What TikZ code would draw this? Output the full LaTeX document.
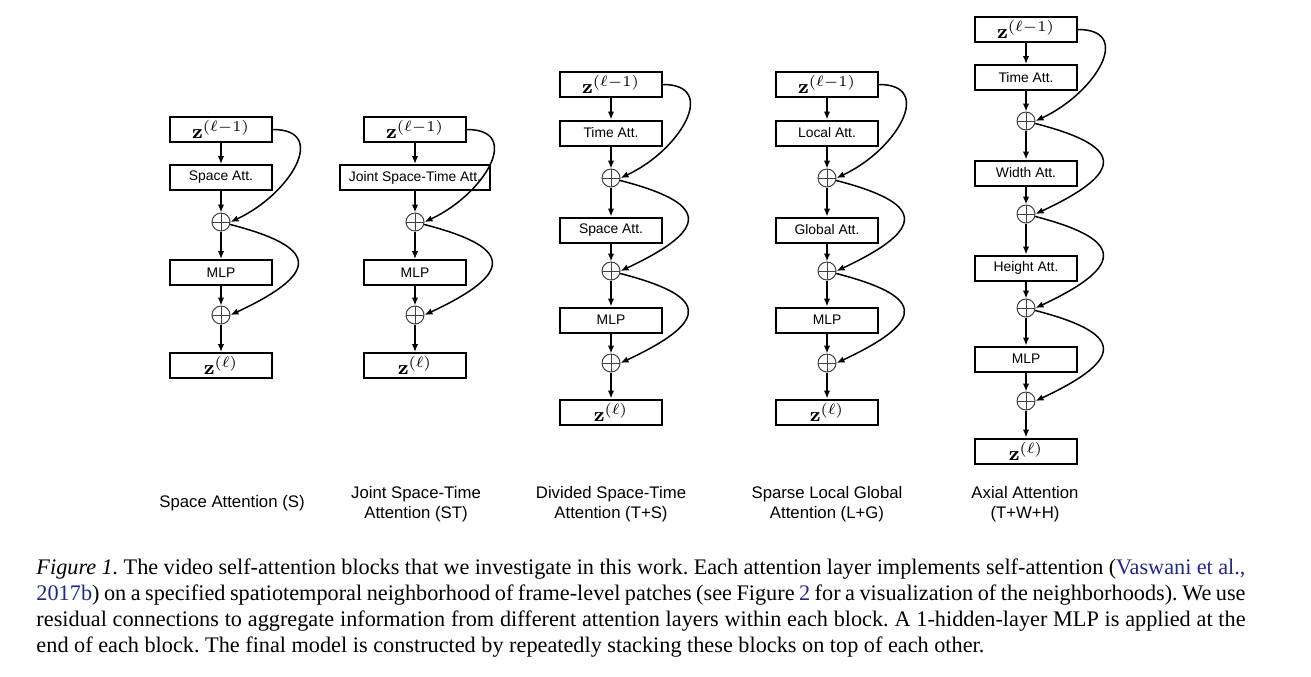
\documentclass[tikz,border=0pt]{standalone}
\usepackage[no-math]{fontspec}
\newfontfamily\arialf{Liberation Sans}
\newfontfamily\capf{Liberation Serif}
\usetikzlibrary{arrows.meta}
\definecolor{linkblue}{RGB}{30,40,140}
\begin{document}
\begin{tikzpicture}[x=0.4pt,y=-0.4pt,
  blk/.style={draw, line width=0.8pt, minimum width=40.8pt, minimum height=10pt, inner sep=0pt, font=\arialf\fontsize{5.55}{6.6}\selectfont},
  wblk/.style={blk, minimum width=60pt},
  zb/.style={blk, font=\fontsize{8}{9}\selectfont},
  pl/.style={circle, draw=black!75, line width=0.4pt, minimum size=7.2pt, inner sep=0pt,
    path picture={\draw[line width=0.4pt, black!75] (path picture bounding box.north) -- (path picture bounding box.south) (path picture bounding box.west) -- (path picture bounding box.east);}},
  fl/.style={-{Latex[length=3.2pt,width=2.6pt]}, line width=0.6pt},
  lbl/.style={align=center, inner sep=0pt, font=\arialf\fontsize{6.7}{8}\selectfont}]
\useasboundingbox (0,0) rectangle (1311,676);

% ---- column 1: Space Attention
\node[zb] (a0) at (221,129.5) {$\mathbf{z}^{(\ell-1)}$};
\node[blk] (a1) at (221,177.5) {Space Att.};
\node[pl] (ap1) at (221,222) {};
\node[blk] (a2) at (221,272.5) {MLP};
\node[pl] (ap2) at (221,315) {};
\node[zb] (a3) at (221,365.5) {$\mathbf{z}^{(\ell)}$};
\draw[fl] (a0) -- (a1); \draw[fl] (a1) -- (ap1); \draw[fl] (ap1) -- (a2);
\draw[fl] (a2) -- (ap2); \draw[fl] (ap2) -- (a3);
\draw[fl] (a0.east) .. controls +(56,0) and +(60,-28) .. (ap1.east);
\draw[fl] (ap1.-15) .. controls +(85,22) and +(94,-44) .. (ap2.east);
\node[lbl] (la) at (232,503) {Space Attention (S)};

% ---- column 2: Joint Space-Time
\node[zb] (b0) at (415,129.5) {$\mathbf{z}^{(\ell-1)}$};
\node[wblk] (b1) at (415,177.5) {Joint Space-Time Att.};
\node[pl] (bp1) at (415,222) {};
\node[blk] (b2) at (415,272.5) {MLP};
\node[pl] (bp2) at (415,315) {};
\node[zb] (b3) at (415,365.5) {$\mathbf{z}^{(\ell)}$};
\draw[fl] (b0) -- (b1); \draw[fl] (b1) -- (bp1); \draw[fl] (bp1) -- (b2);
\draw[fl] (b2) -- (bp2); \draw[fl] (bp2) -- (b3);
\draw[fl] (b0.east) .. controls +(56,0) and +(60,-28) .. (bp1.east);
\draw[fl] (bp1.-15) .. controls +(85,22) and +(94,-44) .. (bp2.east);
\node[lbl] (lb) at (416,504) {Joint Space-Time\\Attention (ST)};

% ---- column 3: Divided Space-Time
\node[zb] (c0) at (611,84.5) {$\mathbf{z}^{(\ell-1)}$};
\node[blk] (c1) at (611,133) {Time Att.};
\node[pl] (cp1) at (611,178) {};
\node[blk] (c2) at (611,230) {Space Att.};
\node[pl] (cp2) at (611,271) {};
\node[blk] (c3) at (611,320) {MLP};
\node[pl] (cp3) at (611,363) {};
\node[zb] (c4) at (611,412) {$\mathbf{z}^{(\ell)}$};
\draw[fl] (c0) -- (c1); \draw[fl] (c1) -- (cp1); \draw[fl] (cp1) -- (c2);
\draw[fl] (c2) -- (cp2); \draw[fl] (cp2) -- (c3); \draw[fl] (c3) -- (cp3); \draw[fl] (cp3) -- (c4);
\draw[fl] (c0.east) .. controls +(56,0) and +(60,-28) .. (cp1.east);
\draw[fl] (cp1.-15) .. controls +(85,22) and +(94,-44) .. (cp2.east);
\draw[fl] (cp2.-15) .. controls +(85,22) and +(94,-44) .. (cp3.east);
\node[lbl] (lc) at (611,504) {Divided Space-Time\\Attention (T+S)};

% ---- column 4: Sparse Local Global
\node[zb] (d0) at (827,84.5) {$\mathbf{z}^{(\ell-1)}$};
\node[blk] (d1) at (827,133) {Local Att.};
\node[pl] (dp1) at (827,178) {};
\node[blk] (d2) at (827,230) {Global Att.};
\node[pl] (dp2) at (827,271) {};
\node[blk] (d3) at (827,320) {MLP};
\node[pl] (dp3) at (827,363) {};
\node[zb] (d4) at (827,412) {$\mathbf{z}^{(\ell)}$};
\draw[fl] (d0) -- (d1); \draw[fl] (d1) -- (dp1); \draw[fl] (dp1) -- (d2);
\draw[fl] (d2) -- (dp2); \draw[fl] (dp2) -- (d3); \draw[fl] (d3) -- (dp3); \draw[fl] (dp3) -- (d4);
\draw[fl] (d0.east) .. controls +(56,0) and +(60,-28) .. (dp1.east);
\draw[fl] (dp1.-15) .. controls +(85,22) and +(94,-44) .. (dp2.east);
\draw[fl] (dp2.-15) .. controls +(85,22) and +(94,-44) .. (dp3.east);
\node[lbl] (ld) at (827,504) {Sparse Local Global\\Attention (L+G)};

% ---- column 5: Axial Attention
\node[zb] (e0) at (1026,29.5) {$\mathbf{z}^{(\ell-1)}$};
\node[blk] (e1) at (1026,77.5) {Time Att.};
\node[pl] (ep1) at (1026,121) {};
\node[blk] (e2) at (1026,173) {Width Att.};
\node[pl] (ep2) at (1026,214) {};
\node[blk] (e3) at (1026,268) {Height Att.};
\node[pl] (ep3) at (1026,308) {};
\node[blk] (e4) at (1026,359) {MLP};
\node[pl] (ep4) at (1026,401) {};
\node[zb] (e5) at (1026,451) {$\mathbf{z}^{(\ell)}$};
\draw[fl] (e0) -- (e1); \draw[fl] (e1) -- (ep1); \draw[fl] (ep1) -- (e2);
\draw[fl] (e2) -- (ep2); \draw[fl] (ep2) -- (e3); \draw[fl] (e3) -- (ep3);
\draw[fl] (ep3) -- (e4); \draw[fl] (e4) -- (ep4); \draw[fl] (ep4) -- (e5);
\draw[fl] (e0.east) .. controls +(56,0) and +(60,-28) .. (ep1.east);
\draw[fl] (ep1.-15) .. controls +(85,22) and +(94,-44) .. (ep2.east);
\draw[fl] (ep2.-15) .. controls +(85,22) and +(94,-44) .. (ep3.east);
\draw[fl] (ep3.-15) .. controls +(85,22) and +(94,-44) .. (ep4.east);
\node[lbl] (le) at (1025,504) {Axial Attention\\(T+W+H)};

% ---- caption
\node[anchor=north west, inner sep=0pt, text width=483.6pt, align=justify,
  font=\capf\fontsize{8.9}{10.5}\selectfont] (cap) at (36,558)
{\hyphenpenalty=10000\frenchspacing\textit{Figure 1.} The video self-attention blocks that we investigate in this work. Each attention layer implements self-attention ({\color{linkblue}Vaswani et al.,}\linebreak {\color{linkblue}2017b}) on a specified spatiotemporal neighborhood of frame-level patches (see Figure~{\color{linkblue}2} for a visualization of the neighborhoods). We use\linebreak residual connections to aggregate information from different attention layers within each block. A 1-hidden-layer MLP is applied at the\linebreak end of each block. The final model is constructed by repeatedly stacking these blocks on top of each other.};
\end{tikzpicture}
\end{document}
